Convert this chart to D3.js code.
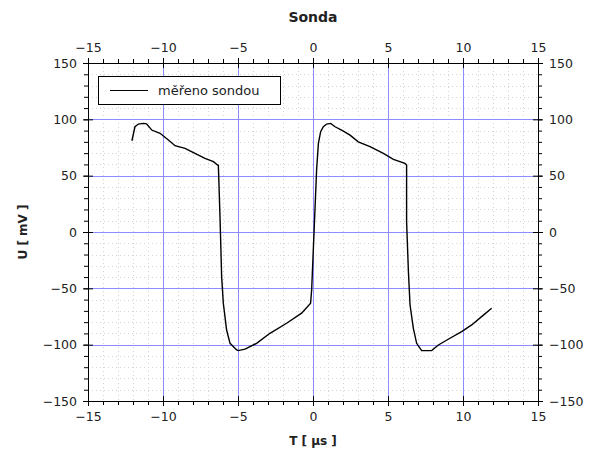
<!DOCTYPE html>
<html><head><meta charset="utf-8">
<script src="https://cdn.jsdelivr.net/npm/d3@7"></script>
<style>body{margin:0;background:#fff}svg{font-family:"DejaVu Sans",sans-serif}</style>
</head><body><svg id="c" width="601" height="454"></svg>
<script>
const T = [-12.07,-11.87,-11.64,-11.3,-11.1,-10.75,-10.2,-9.64,-9.2,-8.53,-7.87,-7.2,-6.64,-6.36,-6.31,-6.2,-6.09,-5.98,-5.76,-5.53,-5.09,-4.98,-4.53,-3.76,-2.87,-1.76,-0.76,-0.16,-0.09,0.24,0.36,0.51,0.69,0.91,1.18,1.47,1.91,2.47,3.02,3.8,4.69,5.36,6.13,6.24,6.24,6.36,6.47,6.69,6.91,7.24,7.91,8.36,9.13,9.91,10.58,11.24,11.91];
const U = [81,93.4,95.8,96.4,96,90.5,87.6,81.6,76.6,74.3,69.8,65.4,62.4,59.5,59.4,13.6,-39.6,-63,-87,-98.8,-104.7,-105.3,-104,-98.8,-89.9,-81,-72,-63.3,-51.5,55,78.7,89,93.4,95.8,96.4,93.4,90.5,86,80,75.7,69.8,64.5,61,59.5,9.1,-35,-64.8,-85.5,-98.8,-105.3,-105.3,-100.3,-94.3,-88.4,-82.5,-75.1,-67.7];
const xTicks = [-15,-10,-5,0,5,10,15];
const yTicks = [-150,-100,-50,0,50,100,150];
const title = "Sonda", xLabel = "T [ μs ]", yLabel = "U [ mV ]", legendLabel = "měřeno sondou";

const svg = d3.select("#c");
const L=88,R=538,Tp=63,B=401;
const x = d3.scaleLinear().domain([-15,15]).range([L,R]);
const y = d3.scaleLinear().domain([-150,150]).range([B,Tp]);
const fmt = d => d<0 ? "\u2212"+Math.abs(d) : ""+d;

// minor grid
const g = svg.append("g");
g.selectAll(".mx").data(d3.range(-15,16,1).filter(d=>d%5)).join("line")
 .attr("x1",d=>Math.round(x(d))+.5).attr("x2",d=>Math.round(x(d))+.5).attr("y1",Tp).attr("y2",B)
 .attr("stroke","#d4d4d4").attr("stroke-dasharray","1,3");
g.selectAll(".my").data(d3.range(-150,151,10).filter(d=>d%50)).join("line")
 .attr("y1",d=>Math.round(y(d))+.5).attr("y2",d=>Math.round(y(d))+.5).attr("x1",L).attr("x2",R)
 .attr("stroke","#d4d4d4").attr("stroke-dasharray","1,3");
// major grid
g.selectAll(".Mx").data(xTicks.slice(1,-1)).join("line")
 .attr("x1",d=>Math.round(x(d))+.5).attr("x2",d=>Math.round(x(d))+.5).attr("y1",Tp).attr("y2",B)
 .attr("stroke","#8c8cff");
g.selectAll(".My").data(yTicks.slice(1,-1)).join("line")
 .attr("y1",d=>Math.round(y(d))+.5).attr("y2",d=>Math.round(y(d))+.5).attr("x1",L).attr("x2",R)
 .attr("stroke","#8c8cff");

const minX = d3.range(-15,16,1), minY = d3.range(-150,151,10);
function makeAxis(orient, sc, major, minor, tr){
  const gm = svg.append("g").attr("transform",tr);
  gm.call(orient(sc).tickValues(minor).tickSize(4).tickFormat("").tickSizeOuter(0));
  gm.select(".domain").attr("stroke","#000");
  gm.selectAll(".tick line").attr("stroke","#000");
  const gM = svg.append("g").attr("transform",tr);
  gM.call(orient(sc).tickValues(major).tickSize(5).tickFormat(fmt).tickSizeOuter(0).tickPadding(6));
  gM.select(".domain").remove();
  gM.selectAll(".tick line").attr("stroke","#000").each(function(){
    const l=d3.select(this);
    if(l.attr("x2")) { const v=+l.attr("x2"); l.attr("x1",-v); }
    if(l.attr("y2")) { const v=+l.attr("y2"); l.attr("y1",-v); }
  });
  gM.selectAll("text").attr("font-size",12.5).attr("fill","#222").attr("font-family","DejaVu Sans");
  return gM;
}
makeAxis(d3.axisTop, x, xTicks, minX, `translate(0,${Tp})`);
makeAxis(d3.axisBottom, x, xTicks, minX, `translate(0,${B})`);
makeAxis(d3.axisLeft, y, yTicks, minY, `translate(${L},0)`);
makeAxis(d3.axisRight, y, yTicks, minY, `translate(${R},0)`);

svg.append("rect").attr("x",L+.5).attr("y",Tp+.5).attr("width",R-L).attr("height",B-Tp)
 .attr("fill","none").attr("stroke","#000");

// curve
svg.append("path").datum(T.map((t,i)=>[t,U[i]]))
 .attr("d",d3.line().x(d=>x(d[0])).y(d=>y(d[1])))
 .attr("fill","none").attr("stroke","#000").attr("stroke-width",1.4);

// legend
svg.append("rect").attr("x",98.5).attr("y",76.5).attr("width",182).attr("height",28)
 .attr("fill","#fff").attr("stroke","#000");
svg.append("line").attr("x1",110).attr("x2",148).attr("y1",90.5).attr("y2",90.5).attr("stroke","#000");
svg.append("text").attr("x",158).attr("y",95).attr("font-size",13).attr("fill","#222").text(legendLabel);

// labels
svg.append("text").attr("x",313).attr("y",22).attr("text-anchor","middle").attr("font-size",14)
 .attr("font-weight","bold").attr("fill","#222").text(title);
svg.append("text").attr("x",313).attr("y",445).attr("text-anchor","middle").attr("font-size",12)
 .attr("font-weight","bold").attr("fill","#222").text(xLabel);
svg.append("text").attr("transform","translate(27,232) rotate(-90)").attr("text-anchor","middle").attr("font-size",12)
 .attr("font-weight","bold").attr("fill","#222").text(yLabel);
</script></body></html>
